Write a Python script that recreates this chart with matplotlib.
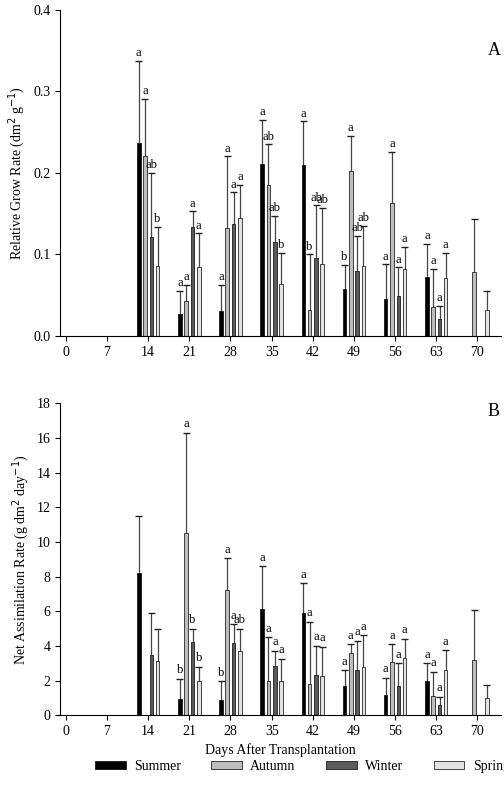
import matplotlib
matplotlib.use("Agg")
import matplotlib.pyplot as plt
import numpy as np

plt.rcParams['font.family'] = ['Liberation Serif', 'DejaVu Serif']

days = [14, 21, 28, 35, 42, 49, 56, 63, 70]
seasons = ["Summer", "Autumn", "Winter", "Spring"]
colors = ["#000000", "#bdbdbd", "#5a5a5a", "#e3e3e3"]
N = np.nan

rgr = {
 "Summer": [.236, .027, .031, .211, .210, .057, .045, .072, N],
 "Autumn": [.221, .043, .132, .185, .032, .202, .163, .035, .078],
 "Winter": [.121, .133, .137, .115, .095, .080, .049, .021, N],
 "Spring": [.086, .085, .145, .064, .088, .086, .082, .071, .032],
}
rgr_top = {
 "Summer": [.337, .055, .063, .265, .263, .087, .088, .113, N],
 "Autumn": [.291, .063, .220, .235, .100, .245, .226, .082, .143],
 "Winter": [.200, .153, .176, .147, .160, .123, .084, .037, N],
 "Spring": [.134, .126, .185, .102, .157, .135, .109, .102, .055],
}
rgr_lab = {
 "Summer": ["a", "a", "a", "a", "a", "b", "a", "a", ""],
 "Autumn": ["a", "a", "a", "ab", "b", "a", "a", "a", ""],
 "Winter": ["ab", "a", "a", "ab", "ab", "ab", "a", "a", ""],
 "Spring": ["b", "a", "a", "b", "ab", "ab", "a", "a", ""],
}
nar = {
 "Summer": [8.2, 0.95, 0.9, 6.1, 5.9, 1.7, 1.15, 2.0, N],
 "Autumn": [N, 10.5, 7.25, 1.95, 1.8, 3.6, 3.05, 1.1, 3.2],
 "Winter": [3.5, 4.25, 4.15, 2.85, 2.3, 2.6, 1.7, 0.6, N],
 "Spring": [3.1, 2.0, 3.7, 1.95, 2.25, 2.8, 3.3, 2.6, 1.0],
}
nar_top = {
 "Summer": [11.5, 2.1, 1.95, 8.6, 7.6, 2.6, 2.15, 3.0, N],
 "Autumn": [N, 16.3, 9.05, 4.5, 5.4, 4.1, 4.1, 2.5, 6.05],
 "Winter": [5.9, 5.0, 5.25, 3.7, 4.0, 4.3, 3.0, 1.05, N],
 "Spring": [5.0, 2.8, 5.0, 3.25, 3.95, 4.6, 4.4, 3.75, 1.75],
}
nar_lab = {
 "Summer": ["", "b", "b", "a", "a", "a", "a", "a", ""],
 "Autumn": ["", "a", "a", "a", "a", "a", "a", "a", ""],
 "Winter": ["", "b", "a", "a", "a", "a", "a", "a", ""],
 "Spring": ["", "b", "ab", "a", "a", "a", "a", "a", ""],
}

offsets = [-1.6, -0.55, 0.55, 1.6]
width = 0.6
cap = 0.6

fig = plt.figure(figsize=(5.04, 8), dpi=100)
axA = fig.add_axes([0.119, 0.58, 0.875, 0.408])
axB = fig.add_axes([0.119, 0.106, 0.875, 0.39])

def draw(ax, vals, tops, labs, ymax, pad):
    x = np.array(days, float)
    for s, c, o in zip(seasons, colors, offsets):
        v = np.array(vals[s], float)
        t = np.array(tops[s], float)
        ax.bar(x + o, v, width, color=c, edgecolor='black', linewidth=0.5, zorder=2,
               label=s)
        m = ~np.isnan(t)
        ax.vlines(x[m] + o, v[m], t[m], color='#444444', linewidth=0.9, zorder=1)
        ax.hlines(t[m], x[m] + o - cap, x[m] + o + cap, color='#222222', linewidth=1.0, zorder=1)
        for xi, ti, li in zip(x + o, t, labs[s]):
            if li and not np.isnan(ti):
                ax.text(xi, ti + pad, li, ha='center', va='bottom', fontsize=9)
    ax.set_xlim(-1, 74)
    ax.set_ylim(0, ymax)
    ax.set_xticks([0, 7, 14, 21, 28, 35, 42, 49, 56, 63, 70])
    for sp in ['top', 'right']:
        ax.spines[sp].set_visible(False)
    ax.tick_params(direction='out', labelsize=10)

draw(axA, rgr, rgr_top, rgr_lab, 0.4, 0.002)
axA.set_yticks([0.0, 0.1, 0.2, 0.3, 0.4])
axA.set_yticklabels(["0.0", "0.1", "0.2", "0.3", "0.4"])
axA.set_ylabel("Relative Grow Rate (dm$^2$ g$^{-1}$)", fontsize=10)
axA.text(0.97, 0.86, "A", transform=axA.transAxes, fontsize=13)

draw(axB, nar, nar_top, nar_lab, 18, 0.15)
axB.set_yticks(range(0, 19, 2))
axB.set_ylabel("Net Assimilation Rate (g dm$^2$ day$^{-1}$)", fontsize=10)
axB.set_xlabel("Days After Transplantation", fontsize=10)
axB.text(0.97, 0.96, "B", transform=axB.transAxes, fontsize=13)

h, l = axB.get_legend_handles_labels()
fig.legend(h, l, loc='center', bbox_to_anchor=(0.6, 0.042), ncol=4, frameon=False,
           fontsize=10, handlelength=2.2, handleheight=0.6, columnspacing=2.2,
           handletextpad=0.6)

fig.savefig("out.png", dpi=100)
